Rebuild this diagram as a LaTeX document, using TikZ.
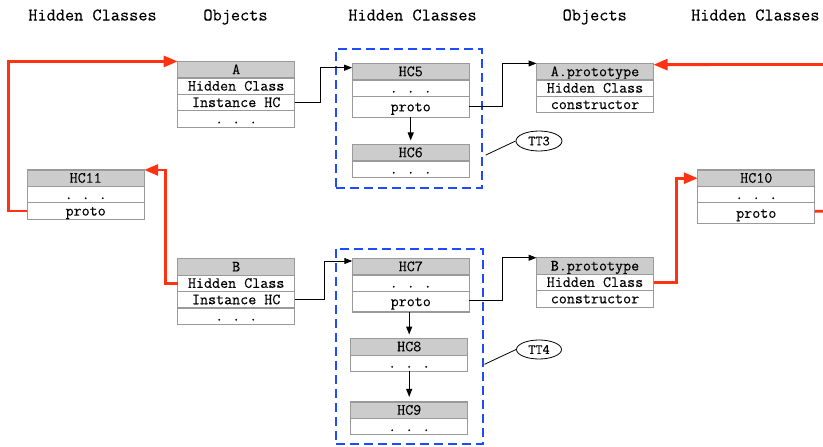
\documentclass[tikz,border=0pt]{standalone}
\usepackage{fontspec}
\newfontfamily\cellmono{Latin Modern Mono}[FakeBold=0.25]
\usetikzlibrary{arrows.meta,positioning,shapes.geometric}
\definecolor{hdrgray}{HTML}{CCCCCC}
\definecolor{boxline}{HTML}{9A9A9A}
\definecolor{linkred}{HTML}{FF3311}
\definecolor{grpblue}{HTML}{1E4BFF}
\newcommand\dotrow{.\hspace{9pt}.\hspace{9pt}.}
\begin{document}
\begin{tikzpicture}[x=1pt,y=-1pt,
  cellbase/.style={draw=boxline, line width=1.1pt, minimum width=117pt,
    inner sep=0pt, outer sep=0pt, font=\cellmono\fontsize{15.6}{18}\selectfont,
    text height=9pt, text depth=0pt},
  hdr/.style={cellbase, fill=hdrgray, minimum height=16.5pt},
  cell/.style={cellbase, fill=white, minimum height=16.4pt},
  tall/.style={cellbase, fill=white, minimum height=21pt},
  coltitle/.style={anchor=base, inner sep=0pt, font=\cellmono\fontsize{17.8}{20}\selectfont},
  grp/.style={draw=grpblue, line width=1.8pt, dash pattern=on 9pt off 5pt,
    inner sep=0pt, outer sep=0pt},
  tt/.style={ellipse, draw, line width=0.8pt, inner sep=0pt,
    minimum width=46pt, minimum height=20pt, font=\cellmono\fontsize{14}{16}\selectfont},
  blk/.style={line width=1pt, -{Triangle[length=8pt,width=6pt]}},
  redline/.style={draw=linkred, line width=2.8pt},
  redarrow/.style={redline, -{Triangle[length=14pt,width=11pt]}},
]
\useasboundingbox (0,0) rectangle (823,447);

% column titles
\node[coltitle] (t1) at (92.5,20.5) {Hidden Classes};
\node[coltitle] (t2) at (235.5,20.5) {Objects};
\node[coltitle] (t3) at (412.5,20.5) {Hidden Classes};
\node[coltitle] (t4) at (594.7,20.5) {Objects};
\node[coltitle] (t5) at (755.3,20.5) {Hidden Classes};

% transition-tree frames
\node[grp, minimum width=146.3pt, minimum height=138.4pt] (G1) at (409.2,118.5) {};
\node[grp, minimum width=147.3pt, minimum height=195pt] (G2) at (409.35,346.5) {};

% object A
\node[hdr] (A) at (236.2,69.7) {A};
\node[cell, below=0pt of A] (A1) {Hidden Class};
\node[cell, below=0pt of A1] (A2) {Instance HC};
\node[cell, below=0pt of A2] (A3) {\dotrow};

% HC5
\node[hdr] (HC5) at (410.7,71.7) {HC5};
\node[cell, below=0pt of HC5] (HC5a) {\dotrow};
\node[tall, below=0pt of HC5a] (HC5b) {proto};

% A.prototype
\node[hdr] (AP) at (595,71.7) {A.prototype};
\node[cell, below=0pt of AP] (AP1) {Hidden Class};
\node[cell, below=0pt of AP1] (AP2) {constructor};

% HC6
\node[hdr] (HC6) at (410.7,152.7) {HC6};
\node[cell, below=0pt of HC6] (HC6a) {\dotrow};

% HC11
\node[hdr] (HC11) at (85.7,178.2) {HC11};
\node[cell, below=0pt of HC11] (HC11a) {\dotrow};
\node[cell, below=0pt of HC11a] (HC11b) {proto};

% object B
\node[hdr] (B) at (236.2,266.9) {B};
\node[cell, below=0pt of B] (B1) {Hidden Class};
\node[cell, below=0pt of B1] (B2) {Instance HC};
\node[cell, below=0pt of B2] (B3) {\dotrow};

% HC10
\node[hdr] (HC10) at (756.3,178.2) {HC10};
\node[cell, below=0pt of HC10] (HC10a) {\dotrow};
\node[tall, below=0pt of HC10a] (HC10b) {proto};

% B.prototype
\node[hdr] (BP) at (595,266) {B.prototype};
\node[cell, below=0pt of BP] (BP1) {Hidden Class};
\node[cell, below=0pt of BP1] (BP2) {constructor};

% HC7, HC8, HC9
\node[hdr] (HC7) at (410.8,266.7) {HC7};
\node[cell, below=0pt of HC7] (HC7a) {\dotrow};
\node[tall, minimum height=20.6pt, below=0pt of HC7a] (HC7b) {proto};
\node[hdr] (HC8) at (409.2,346.8) {HC8};
\node[cell, below=0pt of HC8] (HC8a) {\dotrow};
\node[hdr] (HC9) at (409.2,410.2) {HC9};
\node[cell, below=0pt of HC9] (HC9a) {\dotrow};

% tree labels
\node[tt] (TT3) at (539,141) {TT3};
\node[tt, minimum width=45pt, minimum height=19pt] (TT4) at (539,349.5) {TT4};
\draw[line width=0.8pt] ([xshift=3.5pt,yshift=-36.5pt]G1.east) -- (TT3.west);
\draw[line width=0.8pt] ([xshift=1.5pt,yshift=-17.8pt]G2.east) -- (TT4.west);

% black links
\draw[blk] (A2.east) -- ++(25.3,0) |- ([yshift=4pt]HC5.west);
\draw[blk] (HC5b.east) -- ++(33,0) |- (AP.north west);
\draw[blk, shorten >=4pt] (HC5b.south) -- (HC6.north);
\draw[blk] (B2.east) -- ++(29.6,0) |- ([yshift=5.7pt]HC7.west);
\draw[blk] ([yshift=1.5pt]HC7b.east) -- ++(33,0) |- (BP.north west);
\draw[blk, shorten >=4pt] (HC8.north |- HC7b.south) -- (HC8.north);
\draw[blk, shorten >=5pt] (HC8a.south) -- (HC9.north);

% red prototype-chain links
\coordinate (rin) at (823,64.5);
\coordinate (rout) at (823,211.3);
\draw[redarrow] (HC11b.west) -- ++(-18.5,0) |- (A.north west);
\draw[redarrow] (B1.west) -- ++(-12,0) |- (HC11.north east);
\draw[redarrow] (BP1.east) -- ++(23,0) |- (HC10.west);
\draw[redarrow] (rin) -- ([yshift=-1.2pt]AP.north east);
\draw[redline] ([yshift=2pt]HC10b.east) -- (rout);
\end{tikzpicture}
\end{document}
